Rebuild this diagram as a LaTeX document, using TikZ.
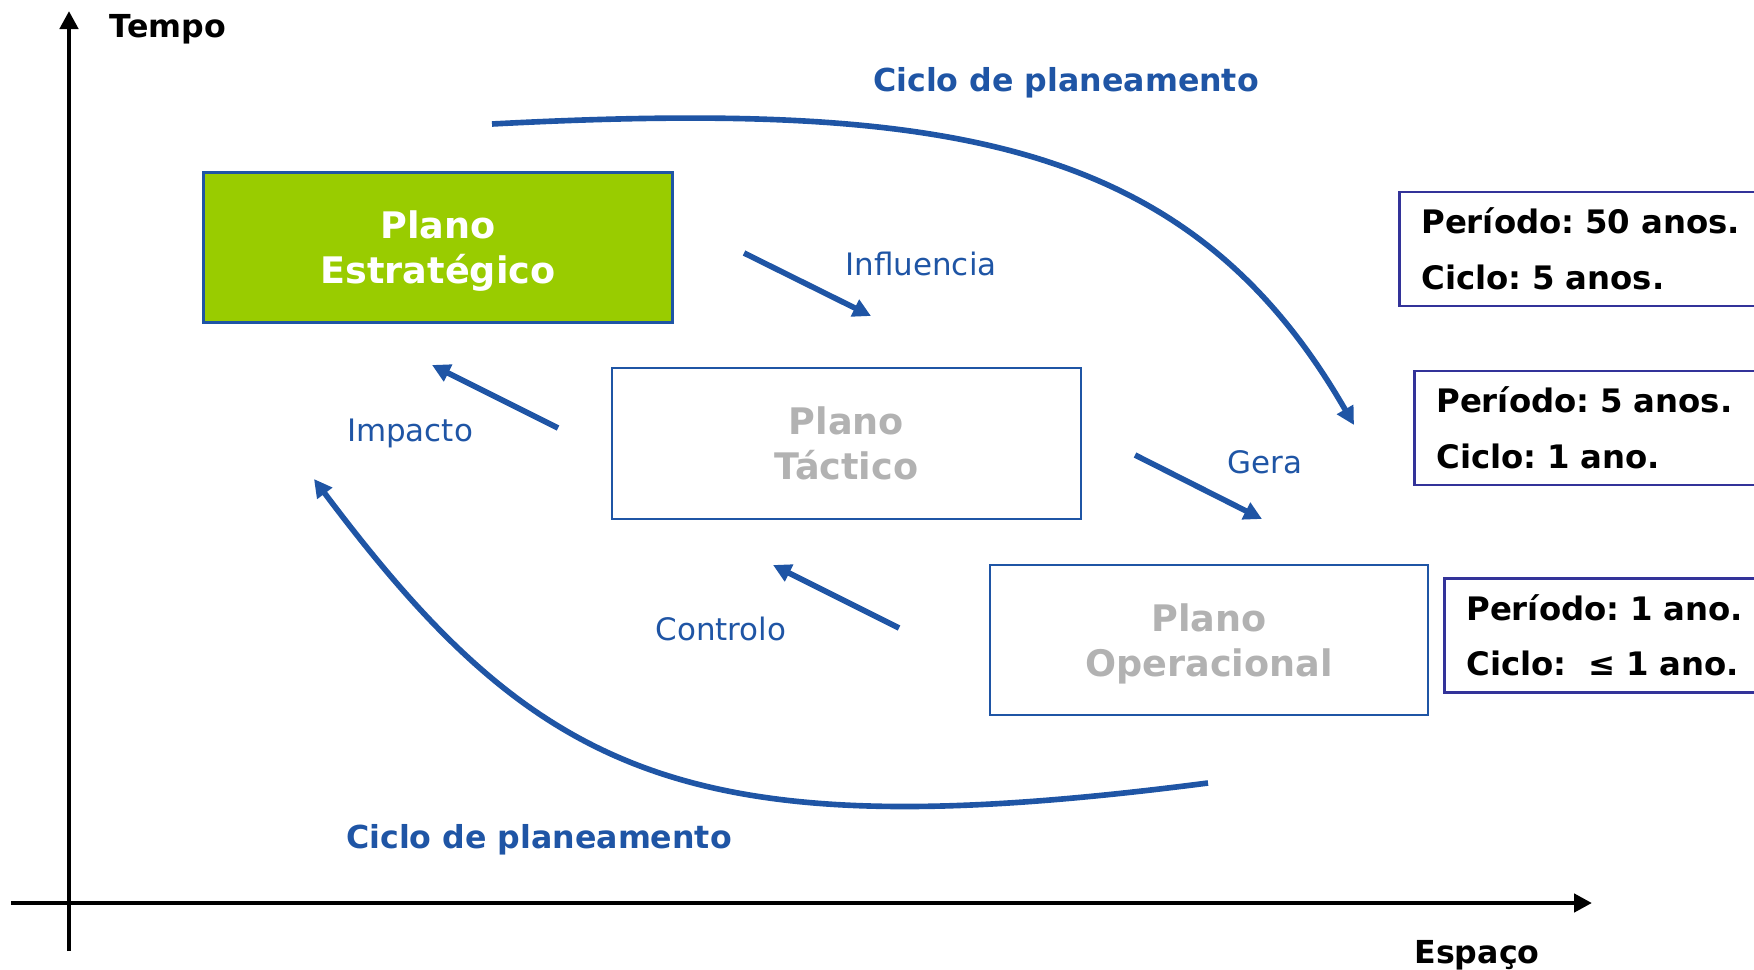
\documentclass[tikz,border=0pt]{standalone}
\usepackage{fontspec}
\setmainfont{DejaVu Sans}
\frenchspacing
\usetikzlibrary{arrows.meta,positioning}

\definecolor{planBlue}{RGB}{31,85,165}
\definecolor{periodBlue}{RGB}{51,51,153}
\definecolor{planGreen}{RGB}{153,204,0}
\definecolor{planGrey}{RGB}{178,178,178}

\tikzset{
    plan/.style = {rectangle, draw=planBlue, line width=0.75pt, minimum height=1.5cm,
                   align=center, text depth=0pt, font=\fontsize{10.4}{12.8}\selectfont\bfseries},
    period/.style = {rectangle, draw=periodBlue, line width=0.75pt, anchor=west,
                     text width=3.3cm, inner xsep=0.22cm, minimum height=1.14cm,
                     align=left, font=\fontsize{9.2}{15.8}\selectfont\bfseries},
    flow/.style = {draw=planBlue, line width=1.6pt, -{Triangle[length=0.18cm,width=0.18cm]}},
    verb/.style = {text=planBlue, anchor=base, font=\fontsize{8.8}{10}\selectfont},
    cyclelabel/.style = {text=planBlue, anchor=base, font=\fontsize{9}{11}\selectfont\bfseries},
    axislabel/.style = {anchor=base, font=\fontsize{9}{11}\selectfont\bfseries},
    axisline/.style = {line width=1.4pt, -{Triangle[length=0.18cm,width=0.18cm]}}
}

\begin{document}
\begin{tikzpicture}[x=0.01cm, y=-0.01cm]
    \useasboundingbox (0,0) rectangle (1754,970);

    \coordinate (ybot) at (69,951);
    \coordinate (ytop) at (69,11);
    \coordinate (xleft) at (11,903);
    \coordinate (xright) at (1592,903);
    \draw[axisline] (ybot) -- (ytop);
    \draw[axisline] (xleft) -- (xright);
    \node[axislabel] (tempo) at (168,38) {Tempo};
    \node[axislabel] (espaco) at (1477,963) {Espaço};

    \node[plan, fill=planGreen, text=white, minimum width=4.69cm] (strat) at (438,247.5) {Plano\\Estratégico};
    \node[plan, text=planGrey, minimum width=4.69cm, minimum height=1.51cm] (tact) at (846.5,443.5) {Plano\\Táctico};
    \node[plan, text=planGrey, minimum width=4.38cm] (oper) at (1209,640) {Plano\\Operacional};

    \node[period] (per50) at (1398,249) {Período: 50 anos.\\Ciclo: 5 anos.};
    \node[period] (per5) at (1413,428) {Período: 5 anos.\\Ciclo: 1 ano.};
    \node[period] (per1) at (1443,635.5) {Período: 1 ano.\\Ciclo:~ ≤ 1 ano.};

    \node[verb] (infl) at (921,276) {Influencia};
    \node[verb] (impact) at (410,442) {Impacto};
    \node[verb] (gera) at (1265,473) {Gera};
    \node[verb] (ctrl) at (721,640) {Controlo};
    \node[cyclelabel] (cycletop) at (1066,92) {Ciclo de planeamento};
    \node[cyclelabel] (cyclebot) at (539,848) {Ciclo de planeamento};

    \coordinate (infl0) at (744,253);
    \coordinate (infl1) at (871,316);
    \coordinate (impact0) at (558,428);
    \coordinate (impact1) at (432,365);
    \coordinate (gera0) at (1135,455);
    \coordinate (gera1) at (1262,519);
    \coordinate (ctrl0) at (899,628);
    \coordinate (ctrl1) at (773,565);
    \draw[flow] (infl0) -- (infl1);
    \draw[flow] (impact0) -- (impact1);
    \draw[flow] (gera0) -- (gera1);
    \draw[flow] (ctrl0) -- (ctrl1);

    \coordinate (top0) at (492,124);
    \coordinate (top1) at (1354,425);
    \coordinate (bot0) at (1208,783);
    \coordinate (bot1) at (314,479);
    \draw[flow] (top0) .. controls (950,100) and (1190,140) .. (top1);
    \draw[flow] (bot0) .. controls (690,850) and (540,780) .. (bot1);
\end{tikzpicture}
\end{document}
